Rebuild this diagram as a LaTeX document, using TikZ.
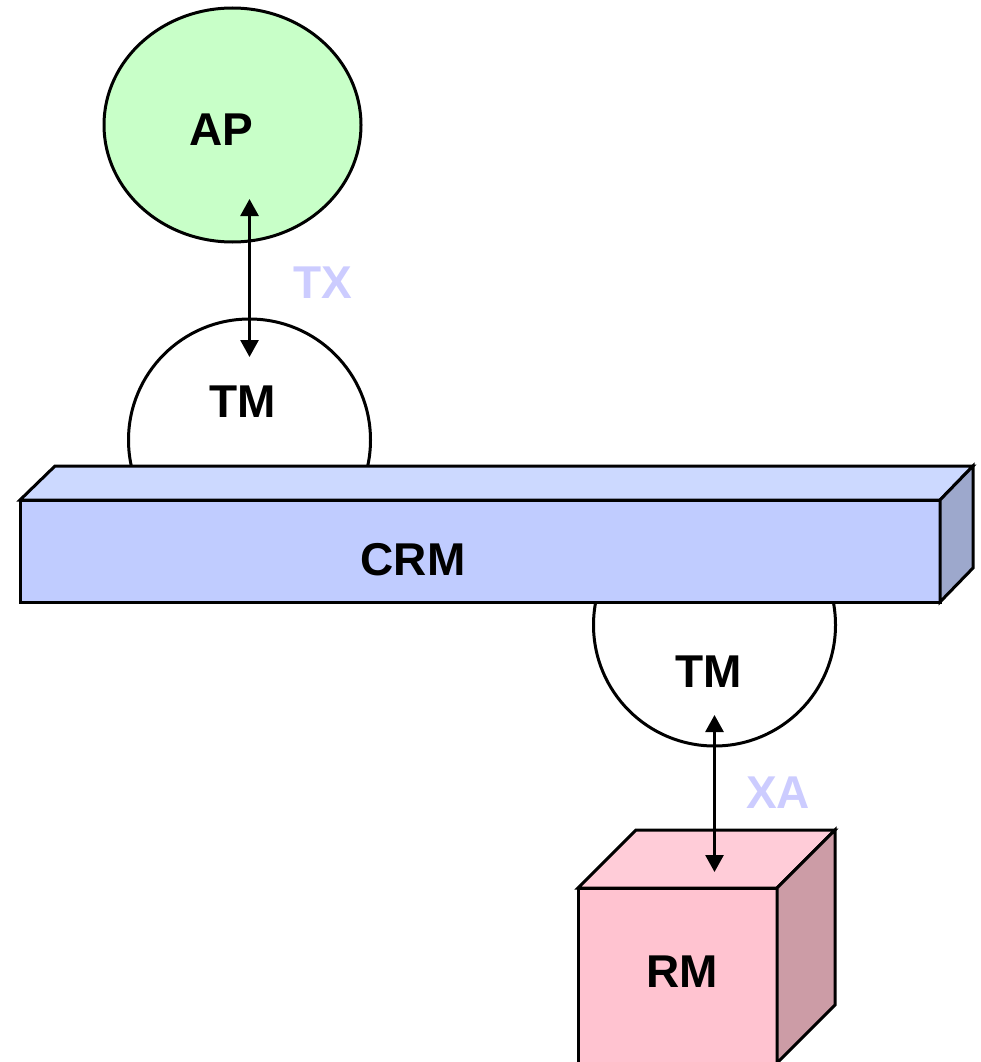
\documentclass[tikz,border=0pt]{standalone}
\usepackage{fontspec}
\setmainfont{Liberation Sans}
\usetikzlibrary{arrows.meta,calc,shapes.geometric}
\definecolor{apgreen}{HTML}{C8FFC8}
\definecolor{crmfront}{HTML}{C0CCFF}
\definecolor{crmtop}{HTML}{CCD9FF}
\definecolor{crmside}{HTML}{9DA8CC}
\definecolor{rmfront}{HTML}{FFC3D0}
\definecolor{rmtop}{HTML}{FFCCD8}
\definecolor{rmside}{HTML}{CC9CA6}
\definecolor{protoblue}{HTML}{CCCCFF}
\begin{document}
\begin{tikzpicture}[x=1pt,y=-1pt,
  outline/.style={draw=black,line width=3pt,line join=miter,outer sep=0pt,inner sep=0pt},
  lbl/.style={font=\fontsize{46}{55}\selectfont\bfseries,inner sep=0pt},
  proto/.style={lbl,text=protoblue},
  tmcircle/.style={outline,circle,fill=white,minimum size=242pt},
  link/.style={line width=2.8pt,{Triangle[length=17pt,width=18pt]}-{Triangle[length=17pt,width=18pt]}}]
\path[use as bounding box] (0,0) rectangle (980,1062);

% application program
\node[outline,ellipse,fill=apgreen,minimum width=257pt,minimum height=234pt] (ap) at (232.5,125) {};
\node[lbl] (aptext) at (221,130) {AP};

% transaction managers, partly hidden behind the bar
\node[tmcircle] (tmtop) at (249.5,440) {};
\node[tmcircle] (tmbottom) at (714.5,625) {};

% communication resource manager bar
\node[outline,rectangle,fill=crmfront,minimum width=920pt,minimum height=102pt] (crm) at (480,551) {};
\draw[outline,fill=crmtop] (crm.north west) -- ++(35,-34) -- ($(crm.north east)+(33,-34)$) -- (crm.north east) -- cycle;
\draw[outline,fill=crmside] (crm.north east) -- ++(33,-34) -- ++(0,102) -- (crm.south east) -- cycle;
\node[lbl] (crmtext) at (413,560) {CRM};

\node[lbl] (tmtoptext) at (243,402) {TM};
\node[lbl] (tmbottomtext) at (709,672) {TM};

% resource manager cube
\node[outline,rectangle,fill=rmfront,minimum width=199pt,minimum height=175pt] (rm) at (677.5,975.5) {};
\draw[outline,fill=rmtop] (rm.north west) -- ++(58,-58) -- ++(199,0) -- (rm.north east) -- cycle;
\draw[outline,fill=rmside] (rm.north east) -- ++(58,-58) -- ++(0,175) -- (rm.south east) -- cycle;
\node[lbl] (rmtext) at (682,972) {RM};

% interfaces
\draw[link] ($(tmtop.north)+(0,38)$) -- ($(tmtop.north)+(0,-120)$);
\draw[link] ($(tmbottom.south)+(0,-31)$) -- ($(tmbottom.south)+(0,126)$);
\node[proto] (tx) at (323,283) {TX};
\node[proto] (xa) at (778,793) {XA};
\end{tikzpicture}
\end{document}
